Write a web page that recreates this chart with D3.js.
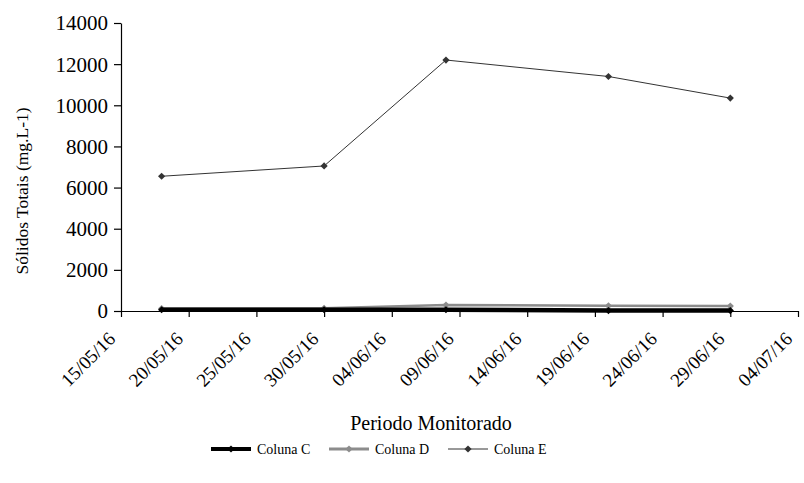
<!DOCTYPE html>
<html>
<head>
<meta charset="utf-8">
<script src="https://cdn.jsdelivr.net/npm/d3@7"></script>
<style>
  body { margin: 0; background: #fff; }
  svg text { font-family: "Liberation Serif", "Times New Roman", serif; fill: #000; }
</style>
</head>
<body>
<div class="chart"></div>
<script>
// data
var dates = ["18/05/16", "30/05/16", "08/06/16", "20/06/16", "29/06/16"];
var colunaC = [60, 60, 60, 20, 20];
var colunaD = [120, 130, 290, 250, 240];
var colunaE = [6550, 7050, 12200, 11400, 10350];
var xTickLabels = ["15/05/16", "20/05/16", "25/05/16", "30/05/16", "04/06/16", "09/06/16",
  "14/06/16", "19/06/16", "24/06/16", "29/06/16", "04/07/16"];
var yTicks = [0, 2000, 4000, 6000, 8000, 10000, 12000, 14000];

var svgWidth = 804, svgHeight = 483;
var margin = { top: 23, right: 6, bottom: 172, left: 121 };
var width = svgWidth - margin.left - margin.right;
var height = svgHeight - margin.top - margin.bottom;

var parse = d3.timeParse("%d/%m/%y");

var svg = d3.select(".chart").append("svg")
  .attr("width", svgWidth)
  .attr("height", svgHeight);

var chartGroup = svg.append("g")
  .attr("transform", `translate(${margin.left}, ${margin.top})`);

var tickDates = xTickLabels.map(parse);

var xTimeScale = d3.scaleTime()
  .domain(d3.extent(tickDates))
  .range([0, width]);

var yLinearScale = d3.scaleLinear()
  .domain([0, 14000])
  .range([height, 0]);

// axes
var xAxis = d3.axisBottom(xTimeScale)
  .tickValues(tickDates)
  .tickFormat((d, i) => xTickLabels[i])
  .tickSizeInner(6).tickSizeOuter(0);
var yAxis = d3.axisLeft(yLinearScale)
  .tickValues(yTicks)
  .tickFormat(d3.format("d"))
  .tickSizeInner(7).tickSizeOuter(0)
  .tickPadding(6);

var gx = chartGroup.append("g")
  .attr("font-family", "Liberation Serif, serif")
  .attr("transform", `translate(0, ${height})`)
  .call(xAxis);
gx.selectAll("text")
  .attr("font-size", 19)
  .attr("text-anchor", "end")
  .attr("dx", 0).attr("dy", 0)
  .attr("y", 0)
  .attr("transform", "translate(-5, 29) rotate(-45)");

var gy = chartGroup.append("g")
  .attr("font-family", "Liberation Serif, serif")
  .call(yAxis);
gy.selectAll("text").attr("font-size", 21).attr("dy", "0.33em");

svg.selectAll(".domain, .tick line").attr("stroke", "#000").attr("stroke-width", 1.2);

// axis titles
svg.append("text")
  .attr("x", 431)
  .attr("y", 430)
  .attr("text-anchor", "middle")
  .attr("font-size", 20)
  .text("Periodo Monitorado");

svg.append("text")
  .attr("transform", "translate(28, 191) rotate(-90)")
  .attr("text-anchor", "middle")
  .attr("font-size", 17.5)
  .text("Sólidos Totais (mg.L-1)");

// series
var series = [
  { name: "Coluna D", values: colunaD, color: "#8c8c8c", width: 2.5 },
  { name: "Coluna C", values: colunaC, color: "#000", width: 4.5 },
  { name: "Coluna E", values: colunaE, color: "#333", width: 1 }
];

var line = d3.line()
  .x(d => xTimeScale(d.date))
  .y(d => yLinearScale(d.value));

var diamond = d3.symbol().type(d3.symbolSquare).size(26);

series.forEach(function(s) {
  var pts = s.values.map((v, i) => ({ date: parse(dates[i]), value: v }));
  chartGroup.append("path")
    .datum(pts)
    .attr("d", line)
    .attr("fill", "none")
    .attr("stroke", s.color)
    .attr("stroke-width", s.width);
  chartGroup.selectAll(null)
    .data(pts)
    .enter()
    .append("path")
    .attr("d", diamond)
    .attr("transform", d => `translate(${xTimeScale(d.date)}, ${yLinearScale(d.value)}) rotate(45)`)
    .attr("fill", s.color);
});

// legend
var legendItems = [
  { name: "Coluna C", color: "#000", width: 4, x: 211 },
  { name: "Coluna D", color: "#8c8c8c", width: 3, x: 329 },
  { name: "Coluna E", color: "#333", width: 1, x: 448 }
];
var legend = svg.append("g").attr("transform", "translate(0, 449)");
legendItems.forEach(function(l) {
  legend.append("line")
    .attr("x1", l.x).attr("x2", l.x + 40)
    .attr("y1", 0).attr("y2", 0)
    .attr("stroke", l.color)
    .attr("stroke-width", l.width);
  legend.append("path")
    .attr("d", diamond)
    .attr("transform", `translate(${l.x + 20}, 0) rotate(45)`)
    .attr("fill", l.color);
  legend.append("text")
    .attr("x", l.x + 46)
    .attr("y", 5)
    .attr("font-size", 14)
    .text(l.name);
});
</script>
</body>
</html>
